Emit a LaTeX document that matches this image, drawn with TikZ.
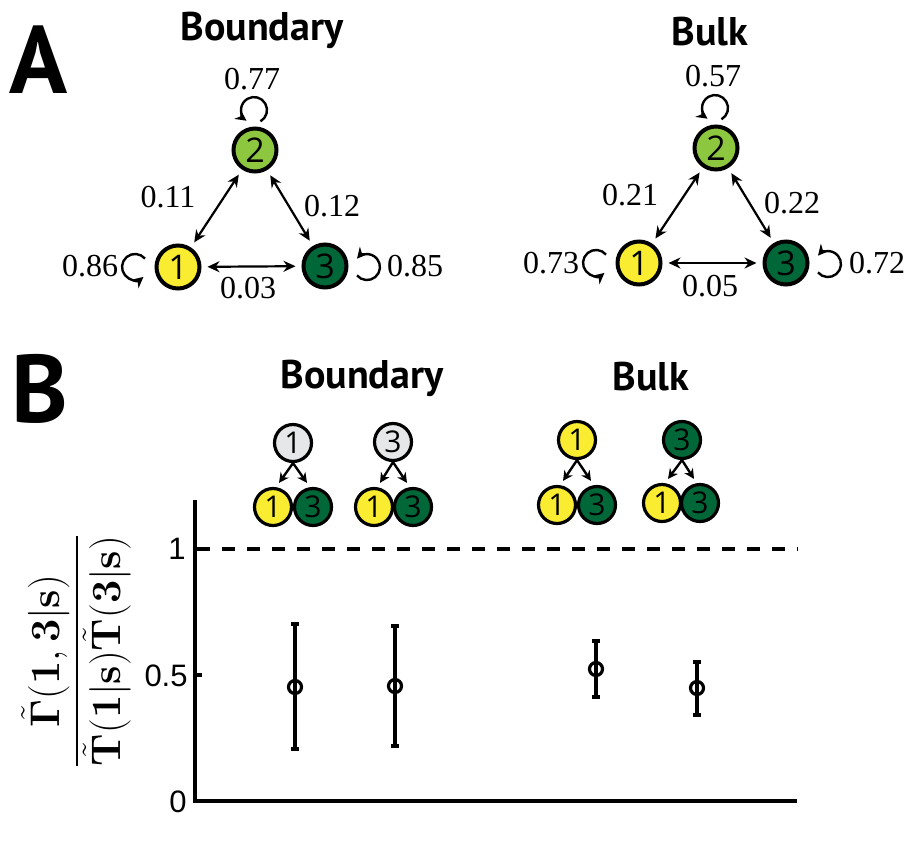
\documentclass[tikz,border=0pt]{standalone}
\usepackage[no-math]{fontspec}
\usepackage{amsmath}
\setmainfont{Liberation Serif}
\newfontfamily\nodefont{Open Sans}
\newfontfamily\titlefont{PT Sans}
\newfontfamily\tickfont{Liberation Sans}
\usetikzlibrary{arrows.meta}
\definecolor{cyel}{HTML}{F9EC31}
\definecolor{clgr}{HTML}{8DC63F}
\definecolor{cdgr}{HTML}{006838}
\definecolor{cgry}{HTML}{E6E7E8}
\begin{document}
\begin{tikzpicture}[x=0.5pt,y=-0.5pt,
  st/.style={circle,draw=black,line width=2pt,minimum size=21.5pt,inner sep=0pt,font=\nodefont\fontsize{17}{17}\selectfont},
  sm/.style={circle,draw=black,line width=1.6pt,minimum size=18.5pt,inner sep=0pt,font=\nodefont\fontsize{15}{15}\selectfont},
  num/.style={inner sep=0pt,font=\fontsize{16}{16}\selectfont},
  ttl/.style={inner sep=0pt,anchor=base,font=\titlefont\bfseries\fontsize{20}{20}\selectfont},
  big/.style={inner sep=0pt,anchor=base,font=\titlefont\bfseries\fontsize{48}{48}\selectfont},
  tick/.style={inner sep=0pt,anchor=east,font=\tickfont\fontsize{15.5}{15.5}\selectfont},
  link/.style={line width=1.1pt,{Stealth[length=6pt,width=5.5pt]}-{Stealth[length=6pt,width=5.5pt]},shorten <=3pt,shorten >=3pt},
  selfloop/.style={line width=1.2pt,-{Stealth[length=5.5pt,width=5.5pt]}},
  arr/.style={line width=1.2pt,-{Stealth[length=5pt,width=5pt]}},
  ebar/.style={line width=1.6pt},
  ecap/.style={line width=2.2pt}
]
\useasboundingbox (0,0) rectangle (919,852);

% ---------- Panel A ----------
\node[big] (lA) at (39,93) {A};
\node[ttl] (tA1) at (262,40) {Boundary};
\node[ttl] (tA2) at (710,45) {Bulk};

% Boundary graph
\node[st,fill=clgr] (b2) at (255,150) {2};
\node[st,fill=cyel] (b1) at (178,267) {1};
\node[st,fill=cdgr] (b3) at (325,266) {3};
\draw[link] (b1) -- (b2);
\draw[link] (b2) -- (b3);
\draw[link] (b1) -- (b3);
\draw[selfloop] (b2.center) ++(5.5,-28.7) arc[start angle=60,end angle=-235,radius=13];
\draw[selfloop] (b1.center) ++(-33,-8.4) arc[start angle=-40,end angle=-310,radius=13];
\draw[selfloop] (b3.center) ++(32,9.4) arc[start angle=140,end angle=-140,radius=13];
\node[num] (lb22) at (252,79) {0.77};
\node[num] (lb12) at (168,197) {0.11};
\node[num] (lb23) at (332,206) {0.12};
\node[num] (lb11) at (90,266) {0.86};
\node[num] (lb33) at (415,266) {0.85};
\node[num] (lb13) at (248,288) {0.03};

% Bulk graph
\node[st,fill=clgr] (k2) at (716,148) {2};
\node[st,fill=cyel] (k1) at (639,263) {1};
\node[st,fill=cdgr] (k3) at (786,263) {3};
\draw[link] (k1) -- (k2);
\draw[link] (k2) -- (k3);
\draw[link] (k1) -- (k3);
\draw[selfloop] (k2.center) ++(5.5,-28.7) arc[start angle=60,end angle=-235,radius=13];
\draw[selfloop] (k1.center) ++(-33,-8.4) arc[start angle=-40,end angle=-310,radius=13];
\draw[selfloop] (k3.center) ++(32,9.4) arc[start angle=140,end angle=-140,radius=13];
\node[num] (lk22) at (713,76) {0.57};
\node[num] (lk12) at (630,195) {0.21};
\node[num] (lk23) at (792,203) {0.22};
\node[num] (lk11) at (551,263) {0.73};
\node[num] (lk33) at (877,263) {0.72};
\node[num] (lk13) at (710,286) {0.05};

% ---------- Panel B ----------
\node[big] (lB) at (40,422) {B};
\node[ttl] (tB1) at (362,388) {Boundary};
\node[ttl] (tB2) at (651,390) {Bulk};

% trees
\node[sm,fill=cgry] (p1) at (293,443) {1};
\node[sm,fill=cyel] (p1a) at (273,507) {1};
\node[sm,fill=cdgr] (p1b) at (313,507) {3};
\draw[arr] (p1.south) -- ([shift={(6,-4)}]p1a.north);
\draw[arr] (p1.south) -- ([shift={(-6,-4)}]p1b.north);

\node[sm,fill=cgry] (p2) at (393,442) {3};
\node[sm,fill=cyel] (p2a) at (374,507) {1};
\node[sm,fill=cdgr] (p2b) at (413,507) {3};
\draw[arr] (p2.south) -- ([shift={(6,-4)}]p2a.north);
\draw[arr] (p2.south) -- ([shift={(-6,-4)}]p2b.north);

\node[sm,fill=cyel] (p3) at (577,440) {1};
\node[sm,fill=cyel] (p3a) at (557,505) {1};
\node[sm,fill=cdgr] (p3b) at (597,505) {3};
\draw[arr] (p3.south) -- ([shift={(6,-4)}]p3a.north);
\draw[arr] (p3.south) -- ([shift={(-6,-4)}]p3b.north);

\node[sm,fill=cdgr] (p4) at (682,440) {3};
\node[sm,fill=cyel] (p4a) at (662,503) {1};
\node[sm,fill=cdgr] (p4b) at (700,503) {3};
\draw[arr] (p4.south) -- ([shift={(6,-4)}]p4a.north);
\draw[arr] (p4.south) -- ([shift={(-6,-4)}]p4b.north);

% axes
\draw[line width=2.2pt,line join=miter] (195,500) -- (195,801) -- (797,801);
\draw[line width=1.6pt] (195,549) -- (202,549);
\draw[line width=1.6pt] (195,675) -- (202,675);
\node[tick] (y1) at (186,549) {1};
\node[tick] (y05) at (188,676) {0.5};
\node[tick] (y0) at (187,802) {0};
\draw[line width=2.2pt,dash pattern=on 6.5pt off 6pt] (197,549) -- (798,549);

% y label
\node[rotate=90,inner sep=0pt] (ylab) at (76,651) {\fontsize{20}{24}\selectfont$\displaystyle\frac{\tilde{\mathbf{\Gamma}}(\mathbf{1},\mathbf{3}|\mathbf{s})}{\tilde{\mathbf{T}}(\mathbf{1}|\mathbf{s})\tilde{\mathbf{T}}(\mathbf{3}|\mathbf{s})}$};

% error bars
\foreach \x/\t/\b/\m in {295/624/749/687, 395/626/746/686, 596/641/697/669, 697/662/715/688}{
  \draw[ebar] (\x,\t) -- (\x,\b);
  \draw[ecap] (\x-4,\t) -- (\x+4,\t);
  \draw[ecap] (\x-4,\b) -- (\x+4,\b);
  \draw[ebar] (\x,\m) circle[radius=6.5];
}
\end{tikzpicture}
\end{document}
